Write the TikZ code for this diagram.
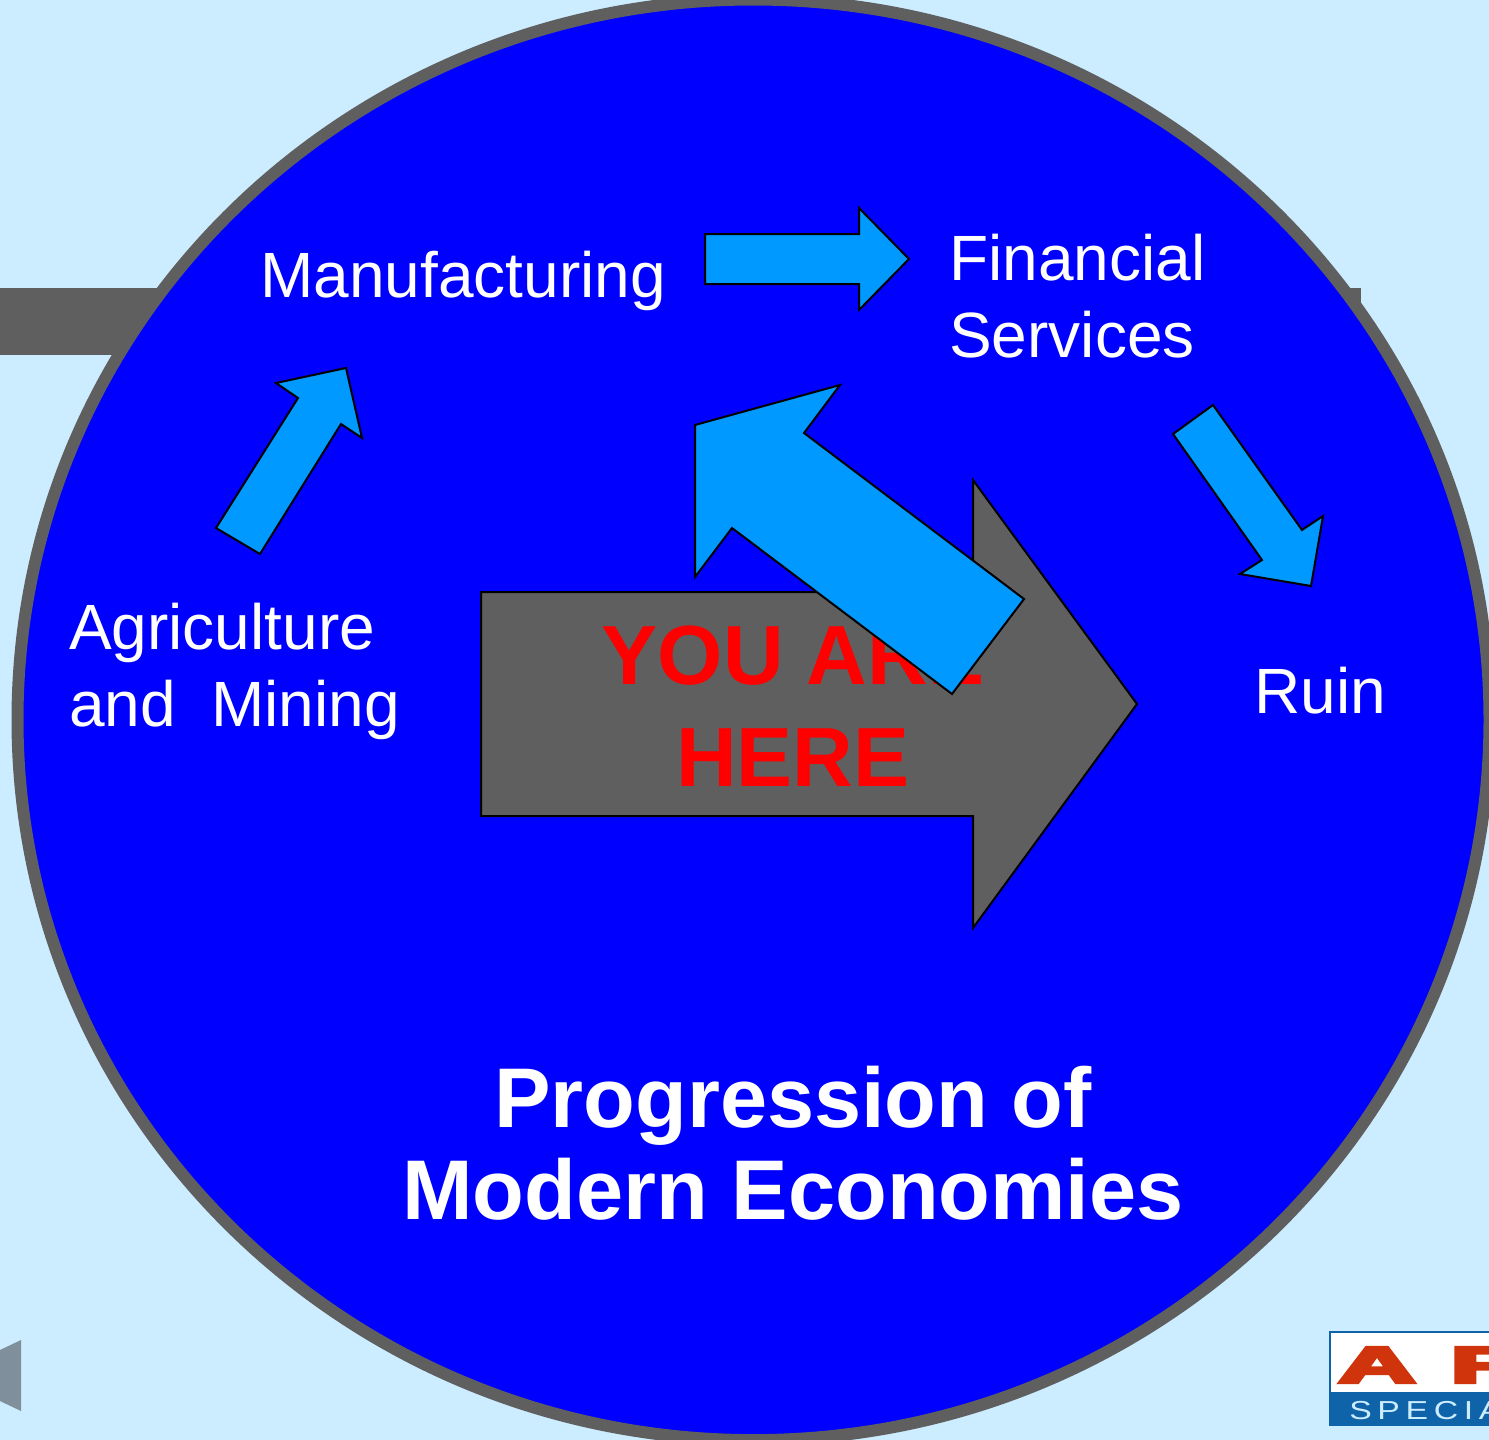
\documentclass[tikz,border=0pt]{standalone}
\usepackage{fontspec}
\setmainfont{Liberation Sans}
\newfontfamily\logoheavy[FakeBold=6]{Liberation Sans Bold}
\definecolor{bgc}{HTML}{CCECFF}
\definecolor{disc}{HTML}{0000FF}
\definecolor{slate}{HTML}{5F5F5F}
\definecolor{sky}{HTML}{0099FF}
\definecolor{navtri}{HTML}{7F8F9B}
\definecolor{logoblue}{HTML}{0F63A8}
\definecolor{logored}{HTML}{D0340C}
\tikzset{
  x=1pt,y=-1pt,
  label text/.style={text=white,font=\fontsize{64}{76.5}\selectfont,inner sep=0pt,align=left,anchor=base west},
  title text/.style={text=white,font=\fontsize{84.7}{92}\selectfont\bfseries,inner sep=0pt,align=center,anchor=base},
  here text/.style={text=red,font=\fontsize{84}{102}\selectfont\bfseries,inner sep=0pt,align=center,anchor=base},
  block arrow/.style={draw=black,line width=2pt,line join=miter,fill=sky},
}
\begin{document}
\begin{tikzpicture}
\useasboundingbox (0,0) rectangle (1489,1440);
\clip (0,0) rectangle (1489,1440);
\fill[bgc] (0,0) rectangle (1489,1440);
% bar behind disc
\fill[slate] (0,288) rectangle (1361,355);
% disc
\draw[slate,line width=12pt,fill=disc] (753.5,719.8) ellipse [x radius=736,y radius=720.3];
% big grey arrow
\draw[block arrow,fill=slate] (481,592) -- (973,592) -- (973,480) -- (1137,704) -- (973,928) -- (973,816) -- (481,816) -- cycle;
\node[here text] (here) at (793,786) {YOU ARE\\HERE};
% blue arrows
\draw[block arrow] (695,425) -- (840,385) -- (804,433) -- (1024,599) -- (952,694) -- (732,528) -- (695,577) -- cycle;
\draw[block arrow] (705,234) -- (859,234) -- (859,208) -- (909,259) -- (859,310) -- (859,284) -- (705,284) -- cycle;
\draw[block arrow] (216,528) -- (298,398) -- (276,383) -- (346,368) -- (362,438) -- (341,424) -- (260,554) -- cycle;
\draw[block arrow] (1173,434) -- (1213,405) -- (1302,530) -- (1323,516) -- (1311,586) -- (1240,574) -- (1262,560) -- cycle;
% labels
\node[label text] (manufacturing) at (260,297) {Manufacturing};
\node[label text] (financial) at (949,357) {Financial\\Services};
\node[label text] (agri) at (69,726) {Agriculture\\and\ \ Mining};
\node[label text] (ruin) at (1254,713) {Ruin};
\node[title text] (title) at (793,1219) {Progression of\\Modern Economies};
% nav triangle
\fill[navtri] (21,1340) -- (21,1411) -- (0,1401) -- (0,1350) -- cycle;
% logo
\fill[white] (1329,1331) rectangle (1489,1393);
\fill[logoblue] (1329,1392) rectangle (1489,1426);
\draw[logoblue,line width=1.5pt] (1330,1426) -- (1330,1332) -- (1489,1332);
\node[text=logored,font=\logoheavy\fontsize{51}{51}\selectfont,inner sep=0pt,anchor=base,xscale=2.1] (logoa) at (1377,1382.5) {A};
\node[text=logored,font=\logoheavy\fontsize{51}{51}\selectfont,inner sep=0pt,anchor=base west,xscale=2.1] (logor) at (1450,1382.5) {R};
\node[text=bgc,font=\fontsize{26}{26}\selectfont,inner sep=0pt,anchor=base west,xscale=1.3] (logos) at (1349,1419) {S\,P\,E\,C\,I\,A\,L};
\end{tikzpicture}
\end{document}
